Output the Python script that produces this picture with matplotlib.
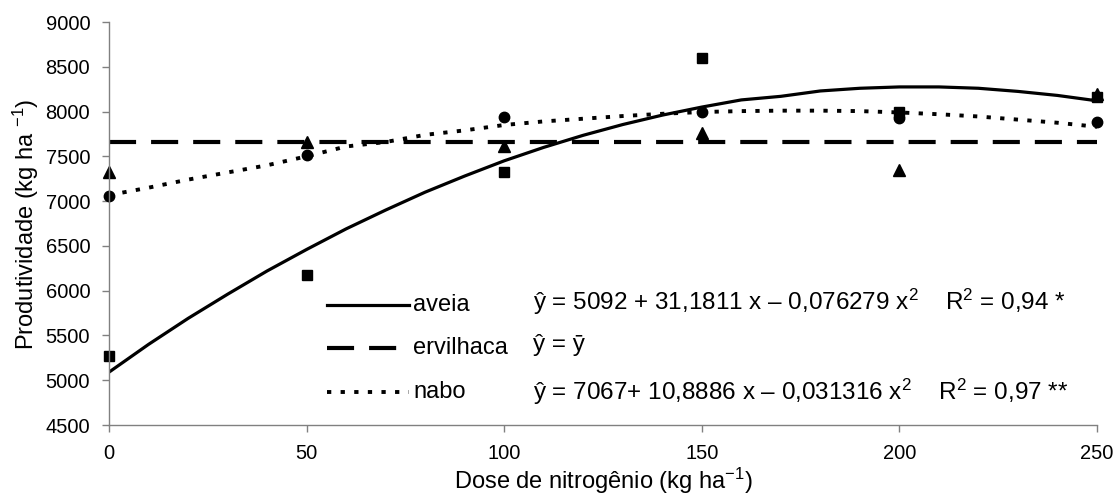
import matplotlib
matplotlib.use("Agg")
import matplotlib.pyplot as plt
from matplotlib.lines import Line2D

plt.rcParams['font.family'] = ['Liberation Sans', 'DejaVu Sans']
plt.rcParams['mathtext.fontset'] = 'custom'
plt.rcParams['mathtext.rm'] = 'Liberation Sans'
plt.rcParams['mathtext.it'] = 'Liberation Sans'
plt.rcParams['mathtext.default'] = 'regular'

doses = [0, 50, 100, 150, 200, 250]
aveia_obs = [5270, 6180, 7320, 8600, 7990, 8160]
ervilhaca_obs = [7330, 7660, 7620, 7760, 7350, 8200]
nabo_obs = [7060, 7510, 7940, 8000, 7930, 7880]

curve_x = [0, 10, 20, 30, 40, 50, 60, 70, 80, 90, 100, 110, 120, 130, 140,
           150, 160, 170, 180, 190, 200, 210, 220, 230, 240, 250]
aveia_fit = [5090, 5400, 5690, 5960, 6220, 6460, 6690, 6900, 7100, 7280, 7450,
             7600, 7735, 7855, 7960, 8050, 8130, 8170, 8230, 8260, 8275, 8275,
             8260, 8225, 8180, 8120]
nabo_fit = [7067, 7150, 7240, 7320, 7400, 7500, 7610, 7660, 7740, 7790, 7850,
            7890, 7920, 7950, 7975, 7995, 8005, 8010, 8010, 8005, 7990, 7970,
            7945, 7910, 7875, 7830]
ervilhaca_mean = 7655

labels = ["aveia", "ervilhaca", "nabo"]
equations = [
    "ŷ = 5092 + 31,1811 x – 0,076279 x$^{2}$    R$^{2}$ = 0,94 *",
    "ŷ = ȳ",
    "ŷ = 7067+ 10,8886 x – 0,031316 x$^{2}$    R$^{2}$ = 0,97 **",
]

W, H = 1114, 494
fig = plt.figure(figsize=(W / 100, H / 100), dpi=100)
ax = fig.add_axes([109 / W, 1 - 425 / H, (1097 - 109) / W, (425 - 22) / H])

solid_style = dict(color='black', lw=2.3)
dash_style = dict(color='black', lw=3.0, dashes=(6.5, 3.6))
dot_style = dict(color='black', lw=2.8, dashes=(1.1, 2.4))

ax.plot(curve_x, aveia_fit, **solid_style)
ax.plot([doses[0], doses[-1]], [ervilhaca_mean, ervilhaca_mean], **dash_style)
ax.plot(curve_x, nabo_fit, **dot_style)

ax.plot(doses, aveia_obs, 's', color='black', ms=7.5, clip_on=False)
ax.plot(doses, ervilhaca_obs, '^', color='black', ms=8, clip_on=False)
ax.plot(doses, nabo_obs, 'o', color='black', ms=7.5, clip_on=False)

ax.set_xlim(0, 250)
ax.set_ylim(4500, 9000)
ax.set_xticks(doses)
ax.set_yticks(range(4500, 9001, 500))
for s in ['top', 'right']:
    ax.spines[s].set_visible(False)
for s in ['left', 'bottom']:
    ax.spines[s].set_color('#808080')
    ax.spines[s].set_linewidth(1)
ax.tick_params(axis='both', colors='#808080', labelcolor='black', labelsize=14.5,
               length=5, width=1, direction='out')
ax.tick_params(axis='x', pad=8.5)
ax.tick_params(axis='y', pad=8.5)

fig.text(603 / W, 1 - 489 / H, "Dose de nitrogênio (kg ha$^{-1}$)", fontsize=17,
         ha='center', va='baseline')
fig.text(34 / W, 1 - 224 / H, "Produtividade (kg ha $^{-1}$)", fontsize=17,
         ha='center', va='baseline', rotation=90, rotation_mode='anchor')

# legend (manual)
handle_styles = [solid_style, dash_style, dot_style]
line_y = [305, 348, 392]
text_base = [311, 354, 398]
for st, ly, tb, lab in zip(handle_styles, line_y, text_base, labels):
    fig.add_artist(Line2D([327 / W, 409 / W], [1 - ly / H, 1 - ly / H],
                          transform=fig.transFigure, **st))
    fig.text(413 / W, 1 - tb / H, lab, fontsize=17, ha='left', va='baseline')

eq_base = [310, 351, 400]
for eq, yb in zip(equations, eq_base):
    fig.text(533 / W, 1 - yb / H, eq, fontsize=17.5, ha='left', va='baseline')

fig.savefig("out.png", dpi=100)
